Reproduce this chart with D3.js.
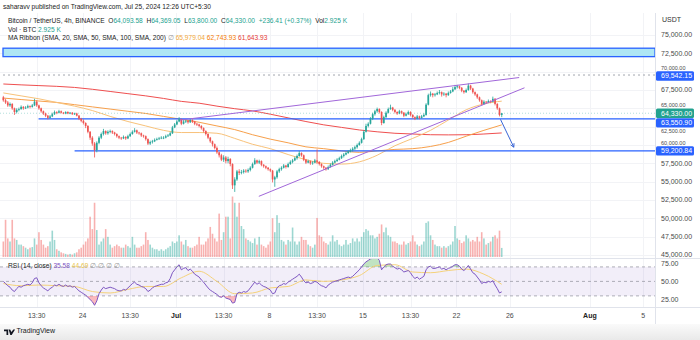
<!DOCTYPE html>
<html><head><meta charset="utf-8">
<script src="https://cdn.jsdelivr.net/npm/d3@7"></script>
<style>
html,body{margin:0;padding:0;background:#fff;}
svg{display:block;font-family:"Liberation Sans",Arial,sans-serif;}
</style></head><body>
<svg id="chart" width="700" height="340"></svg>
<script>
// BTC/USDT 4h bars from Jun 18 01:30 to Jul 25 09:30 (UTC+5:30); prices in thousands of USDT
const firstBarDay = -12.9375;   // days relative to Jul 1 00:00
const barDays = 1 / 6;
const firstOpen = 66.5;
const closes = [66.1,65.8,65.4,65.6,65.0,64.5,64.8,64.9,65.2,65.0,65.1,65.3,65.2,65.4,65.9,65.4,65.0,64.6,64.3,64.0,
63.7,63.9,64.2,64.5,64.4,64.6,64.4,64.3,64.5,64.3,64.4,64.2,64.3,64.0,63.6,63.3,63.0,62.6,61.8,61.0,
60.2,59.3,60.3,61.0,61.5,61.9,61.6,61.8,61.9,61.7,61.5,61.2,61.0,60.9,61.1,60.9,61.2,61.5,61.8,62.0,
61.7,61.6,61.3,61.2,60.8,60.2,60.4,60.5,60.7,60.8,60.9,61.0,61.0,61.2,61.3,61.6,62.4,62.8,63.2,63.5,
62.9,63.2,63.3,63.1,63.4,63.2,62.9,62.8,62.6,62.3,61.9,61.5,61.0,60.5,60.1,59.6,59.0,58.6,58.0,58.3,
57.8,58.1,57.4,54.5,55.3,56.4,56.2,56.3,56.5,56.4,56.6,56.9,57.4,57.9,57.6,57.8,57.3,57.1,56.9,56.7,
56.5,55.3,55.6,56.4,56.7,56.9,57.2,57.0,57.4,57.7,57.9,58.2,58.5,58.9,58.6,58.0,57.6,57.8,57.5,57.6,
57.9,57.7,57.4,57.1,56.9,56.7,57.0,57.3,57.6,57.8,58.0,58.2,58.5,58.7,58.9,59.1,59.3,59.5,59.7,60.0,
60.3,60.8,61.8,62.6,62.9,63.6,64.2,64.6,64.9,64.5,63.0,63.8,64.4,64.9,65.1,64.8,64.5,64.3,64.6,64.4,
64.0,64.2,64.5,64.1,63.8,63.6,63.9,63.7,63.9,64.1,65.5,66.8,67.0,66.8,66.9,67.1,67.2,66.9,67.0,66.8,
67.1,67.3,67.6,67.9,68.0,67.8,67.4,67.2,67.5,68.1,67.7,67.2,66.9,66.5,66.1,65.6,65.9,65.8,66.0,65.9,
66.3,65.6,65.0,64.09358,64.33];
const highs = [66.7,66.3,66.0,65.8,65.7,65.1,65.0,65.1,65.4,65.3,65.3,65.5,65.4,65.6,66.3,66.1,65.5,65.1,64.7,64.4,
64.1,64.1,64.4,64.7,64.6,64.8,64.7,64.5,64.6,64.6,64.5,64.5,64.4,64.4,64.1,63.7,63.5,63.1,62.7,61.9,
61.2,60.4,60.5,61.2,61.7,62.2,62.0,62.0,62.1,62.0,61.8,61.6,61.3,61.1,61.3,61.2,61.4,61.7,62.0,62.3,
62.1,61.8,61.7,61.4,61.3,60.9,60.6,60.7,60.9,61.0,61.1,61.2,61.2,61.4,61.5,61.8,62.6,63.0,63.4,63.8,
63.6,63.4,63.5,63.4,63.6,63.5,63.3,63.0,62.9,62.7,62.4,62.0,61.6,61.1,60.6,60.2,59.8,59.1,58.8,58.6,
58.5,58.4,58.2,57.5,55.6,56.6,56.7,56.6,56.7,56.7,56.8,57.1,57.6,58.2,58.0,58.0,57.9,57.4,57.2,57.0,
56.8,56.6,55.8,56.6,56.9,57.1,57.4,57.3,57.6,57.9,58.1,58.4,58.7,59.2,59.0,58.7,58.1,58.0,57.9,57.8,
58.1,59.4,57.8,57.5,57.2,57.0,57.2,57.5,57.8,58.0,58.2,58.4,58.7,58.9,59.1,59.3,59.5,59.7,59.9,60.2,
60.5,61.0,62.0,62.9,63.1,63.8,64.4,64.8,65.1,65.0,64.6,64.0,64.6,65.1,65.5,65.2,64.9,64.6,64.8,64.7,
64.5,64.4,64.7,64.6,64.2,63.9,64.1,64.0,64.1,64.3,65.7,67.0,67.3,67.1,67.1,67.3,67.5,67.3,67.2,67.1,
67.3,67.5,67.9,68.2,68.2,68.1,67.9,67.5,67.7,68.4,68.2,67.8,67.3,67.0,66.6,66.2,66.1,66.0,66.2,66.1,
66.6,66.4,65.7,65.1,64.36905];
const lows = [65.9,65.6,65.2,65.2,64.8,64.1,64.3,64.6,64.8,64.8,64.9,65.0,65.0,65.1,65.3,65.2,64.8,64.4,64.1,63.8,
63.5,63.6,63.8,64.1,64.2,64.3,64.3,64.2,64.2,64.2,64.2,64.1,64.1,63.9,63.4,63.1,62.8,62.3,61.6,60.7,
59.9,58.3,59.0,60.1,60.8,61.3,61.4,61.4,61.6,61.5,61.3,61.0,60.8,60.7,60.8,60.7,60.8,61.1,61.4,61.7,
61.5,61.4,61.1,61.0,60.6,60.0,60.0,60.2,60.4,60.6,60.7,60.8,60.8,60.9,61.1,61.2,61.5,62.3,62.7,63.1,
62.7,62.8,63.0,62.9,63.0,63.0,62.7,62.6,62.4,62.1,61.7,61.3,60.8,60.3,59.8,59.4,58.8,58.3,57.8,57.7,
57.5,57.5,57.1,54.0,53.6,55.1,55.9,56.0,56.1,56.2,56.2,56.4,56.8,57.3,57.4,57.4,57.1,56.9,56.7,56.5,
56.3,54.9,54.3,55.4,56.2,56.5,56.8,56.8,56.9,57.3,57.5,57.8,58.0,58.4,58.4,57.8,57.4,57.5,57.3,57.3,
57.5,57.4,57.2,56.9,56.6,56.5,56.6,56.9,57.2,57.5,57.7,57.9,58.1,58.3,58.6,58.8,59.0,59.1,59.3,59.5,
59.9,60.2,60.7,61.7,62.4,62.8,63.4,64.0,64.4,64.3,62.7,62.9,63.7,64.3,64.8,64.6,64.3,64.1,64.2,64.2,
63.8,63.9,64.1,63.9,63.6,63.4,63.5,63.5,63.6,63.8,64.0,65.4,66.6,66.5,66.6,66.8,66.9,66.6,66.7,66.5,
66.7,67.0,67.2,67.5,67.7,67.6,67.2,67.0,67.1,67.4,67.5,67.0,66.7,66.3,65.9,65.4,65.5,65.6,65.7,65.7,
65.8,65.4,64.8,63.9,63.8];
// volume in thousand BTC
const volumes = [5,12,6,5,12,6,5.5,4,4,3.5,3,2.5,3,3.2,6,4,8,5.5,4,3,
3.5,5,8.5,5.5,2.5,2,1.5,1.2,1,0.8,1,0.8,1.2,1.5,2.5,3,4,5,6,13,
9,17.5,8.7,4,5,6,9,6.5,4,3,3.5,4,3.5,3,3,4,3.5,3,6.5,4,
3,3,3.5,4,8,5.5,4,3,2.5,2.5,2,2.5,2,2.5,3,3.5,5,4.5,5,7,
5,4,5.5,3.5,3,3,3.5,4,6.5,4,4,5,6,9.7,7.5,6,5,14,5.5,8,
13,13,6,19.5,17.5,13,17.5,10,9,6,5.5,5,4.5,6,4,6.5,4,3.5,3,4,
5,12.5,8,13.5,11,5.5,5,4,5.5,5,9.5,5,4,5,6.5,5.5,5.5,4,3.5,3,
4,12.6,7,6.5,5,4.5,4,5,7,5,5.5,4,3.5,4,5.5,4,4.5,6,5,6,
5,6.5,8,9,8.5,7,7,6,6.5,7.5,10.5,8,9.5,7,6.5,5,5,4.5,4,4,
5,4,4.5,5,7,5,4,3.5,4,5,11,11.5,7,5.5,4,3.5,3.5,3,3.5,3,
3.5,4,5,10,6,5.5,4.5,5,7,6,5,5.5,5,6.5,5,8,6,4,4.5,5,
6.5,7,6,8.5,2.925];
// RSI(14) per bar
const rsi = [50,47,44,42,38,36,40,43,42,44,45,46,45,48,54,55,48,44,41,39,
37,40,42,45,44,46,44,43,45,43,44,42,43,40,37,35,33,31,28,25,
22,17,23,33,38,42,40,41,42,41,40,38,37,37,39,38,41,44,47,49,
46,45,43,42,40,36,38,41,43,44,45,46,46,48,49,54,62,66,70,73,
66,68,69,65,67,64,60,58,56,52,49,45,41,38,36,34,32,29,28,30,
27,26,25,20,21,33,35,34,36,35,37,41,45,49,46,48,45,43,42,40,
38,33,34,41,44,45,47,46,49,51,53,55,57,60,56,51,48,49,47,48,
50,49,46,44,43,41,45,47,49,50,51,52,53,54,55,56,55,57,60,63,
66,70,74,77,79,81,82,83,83,79,66,70,73,74,74,71,69,67,68,66,
63,64,65,62,57,54,56,53,55,57,66,70,71,68,68,69,70,67,68,66,
68,69,71,73,73,71,67,65,68,72,67,62,60,56,52,47,49,48,50,49,
51,45,40,34,35.58];
// moving averages and RSI average, one reading every 8 bars
const maStep = 8;
const sma50 = [67.1,66.7,66.3,65.8,65.3,64.7,63.9,63.2,62.6,62.0,61.7,61.7,61.6,60.9,60.1,59.5,58.7,58.0,57.5,57.4,57.7,58.6,59.9,60.9,62.0,63.4,64.8,65.6,65.979];
const sma100 = [66.4,66.2,66.0,65.8,65.5,65.2,64.9,64.6,64.3,63.9,63.5,63.1,62.6,62.1,61.4,60.8,60.3,59.75,59.5,59.2,59.0,59.2,59.4,59.5,59.8,60.35,61.2,62.0,62.744];
const sma200 = [68.32,68.2,68.1,68.0,67.85,67.6,67.3,67.0,66.7,66.35,65.95,65.7,65.3,64.95,64.65,64.2,63.7,63.2,62.75,62.4,62.05,61.8,61.6,61.5,61.4,61.38,61.4,61.5,61.644];
const rsiMa = [47,44,45,44,43,36,34,39,43,43,55,64,50,33,34,41,43,52,50,52,58,72,73,63,62,65,67,60,46];

// axis ticks
const priceTicks = [45,47.5,50,52.5,55,57.5,60,62.5,65,67.5,70,72.5,75];
const rsiTicks = [25,50,75];
const timeTicks = [[-10.4375,"13:30"],[-7,"24"],[-3.4375,"13:30"],[0,"Jul"],[3.5625,"13:30"],[7,"8"],[10.5625,"13:30"],[14,"15"],[17.5625,"13:30"],[21,"22"],[25,"26"],[31,"Aug"],[35,"5"]];
const boldTicks = ["Jul","Aug"];

// drawn levels (thousands)
const zoneLevels = [72.05, 73.2];
const dottedLevel = 69.54215;
const supportLevels = [[63.5509, -10.3], [59.20084, -7.6]]; // level, start day
const lastPrice = 64.33;
const upperWedge = [[0.3, 63.4], [25.7, 69.2]];   // [day, price]
const lowerWedge = [[6.2, 53.0], [26.1, 67.8]];
const arrowPts = [[24.3, 63.5], [25.3, 59.7]];

const fmt = d3.format(",.2f");
const svg = d3.select("#chart");
const PLOT_R = 655;

const x = d3.scaleLinear().domain([-7, 35]).range([82.6, 643.3]);
const y = d3.scaleLinear().domain([45, 75]).range([255, 35]);
const yVol = d3.scaleLinear().domain([0, 20]).range([257, 195]);
const yRsi = d3.scaleLinear().domain([25, 75]).range([299.5, 263.3]);
const barDay = i => firstBarDay + i * barDays;
const bx = i => x(barDay(i));

const bars = closes.map((c, i) => ({
  i, o: i === 0 ? firstOpen : closes[i - 1], c, h: highs[i], l: lows[i], v: volumes[i], r: rsi[i]
}));

const defs = svg.append("defs");
defs.append("clipPath").attr("id", "mainClip").append("rect").attr("x", 0).attr("y", 13).attr("width", PLOT_R).attr("height", 245);
defs.append("clipPath").attr("id", "rsiClip").append("rect").attr("x", 0).attr("y", 259).attr("width", PLOT_R).attr("height", 48);
defs.append("clipPath").attr("id", "obClip").append("rect").attr("x", 0).attr("y", 250).attr("width", PLOT_R).attr("height", yRsi(70) - 250);
defs.append("clipPath").attr("id", "osClip").append("rect").attr("x", 0).attr("y", yRsi(30)).attr("width", PLOT_R).attr("height", 20);
const fg = defs.append("linearGradient").attr("id", "footGrad").attr("x1", 0).attr("y1", 0).attr("x2", 0).attr("y2", 1);
fg.append("stop").attr("offset", "0%").attr("stop-color", "#fafafa");
fg.append("stop").attr("offset", "100%").attr("stop-color", "#e9e9e9");

// grid
const grid = svg.append("g").attr("stroke", "#f2f3f6").attr("stroke-width", 1);
priceTicks.forEach(p => grid.append("line").attr("x1", 0).attr("x2", PLOT_R).attr("y1", Math.round(y(p)) + 0.5).attr("y2", Math.round(y(p)) + 0.5));
timeTicks.forEach(t => grid.append("line").attr("x1", Math.round(x(t[0])) + 0.5).attr("x2", Math.round(x(t[0])) + 0.5).attr("y1", 13).attr("y2", 307));

const main = svg.append("g").attr("clip-path", "url(#mainClip)");

// resistance zone
main.append("rect").attr("x", 3).attr("width", PLOT_R - 3)
  .attr("y", y(zoneLevels[1])).attr("height", y(zoneLevels[0]) - y(zoneLevels[1]))
  .attr("fill", "#aee6f4").attr("stroke", "#2962ff").attr("stroke-width", 1.3);

// volume
main.append("g").selectAll("rect").data(bars).join("rect")
  .attr("x", d => bx(d.i) - 0.8).attr("width", 1.6)
  .attr("y", d => yVol(d.v)).attr("height", d => yVol(0) - yVol(d.v))
  .attr("fill", d => d.c >= d.o ? "rgba(38,166,154,0.45)" : "rgba(239,83,80,0.45)");

// moving averages
const maLine = arr => d3.line().curve(d3.curveMonotoneX)
  .x((v, k) => bx(k * maStep)).y(v => y(v))(arr);
[[sma200, "#ef4f4f"], [sma100, "#f7a04b"], [sma50, "#f8c27a"]].forEach(([arr, col]) =>
  main.append("path").attr("d", maLine(arr)).attr("fill", "none").attr("stroke", col).attr("stroke-width", 1));

// last price line
main.append("line").attr("x1", 0).attr("x2", PLOT_R).attr("y1", y(lastPrice)).attr("y2", y(lastPrice))
  .attr("stroke", "#26a69a").attr("stroke-opacity", 0.35).attr("stroke-dasharray", "1,2");

// dotted level
main.append("line").attr("x1", 3).attr("x2", PLOT_R).attr("y1", y(dottedLevel)).attr("y2", y(dottedLevel))
  .attr("stroke", "#a3a6af").attr("stroke-width", 1).attr("stroke-dasharray", "2,3");

// support lines
supportLevels.forEach(([p, d]) => main.append("line").attr("x1", x(d)).attr("x2", PLOT_R)
  .attr("y1", y(p)).attr("y2", y(p)).attr("stroke", "#2962ff").attr("stroke-width", 1.3));

// candles
const cg = main.append("g");
cg.selectAll("line").data(bars).join("line")
  .attr("x1", d => bx(d.i)).attr("x2", d => bx(d.i)).attr("y1", d => y(d.h)).attr("y2", d => y(d.l))
  .attr("stroke", d => d.c >= d.o ? "#26a69a" : "#ef5350").attr("stroke-width", 0.8);
cg.selectAll("rect").data(bars).join("rect")
  .attr("x", d => bx(d.i) - 0.85).attr("width", 1.7)
  .attr("y", d => y(Math.max(d.o, d.c))).attr("height", d => Math.max(0.8, Math.abs(y(d.o) - y(d.c))))
  .attr("fill", d => d.c >= d.o ? "#26a69a" : "#ef5350");

// rising wedge
[upperWedge, lowerWedge].forEach(seg => main.append("line")
  .attr("x1", x(seg[0][0])).attr("y1", y(seg[0][1])).attr("x2", x(seg[1][0])).attr("y2", y(seg[1][1]))
  .attr("stroke", "#a167d9").attr("stroke-width", 1));

// projection arrow
const ax1 = x(arrowPts[0][0]), ay1 = y(arrowPts[0][1]), ax2 = x(arrowPts[1][0]), ay2 = y(arrowPts[1][1]);
main.append("line").attr("x1", ax1).attr("y1", ay1).attr("x2", ax2).attr("y2", ay2).attr("stroke", "#3a66d6").attr("stroke-width", 1);
const ang = Math.atan2(ay2 - ay1, ax2 - ax1);
const ah = 4;
main.append("path").attr("d", `M${ax2 - ah * Math.cos(ang - 0.5)},${ay2 - ah * Math.sin(ang - 0.5)}L${ax2},${ay2}L${ax2 - ah * Math.cos(ang + 0.5)},${ay2 - ah * Math.sin(ang + 0.5)}`)
  .attr("fill", "none").attr("stroke", "#3a66d6").attr("stroke-width", 1);

// RSI pane
const rsiG = svg.append("g").attr("clip-path", "url(#rsiClip)");
rsiG.append("rect").attr("x", 0).attr("width", PLOT_R).attr("y", yRsi(70)).attr("height", yRsi(30) - yRsi(70)).attr("fill", "rgba(126,87,194,0.1)");
[70, 50, 30].forEach(v => rsiG.append("line").attr("x1", 0).attr("x2", PLOT_R).attr("y1", yRsi(v)).attr("y2", yRsi(v))
  .attr("stroke", "#9a9ca6").attr("stroke-width", 0.8).attr("stroke-dasharray", "3,3"));
rsiG.append("path").attr("clip-path", "url(#obClip)")
  .attr("d", d3.area().x(d => bx(d.i)).y0(yRsi(70)).y1(d => yRsi(d.r))(bars)).attr("fill", "rgba(76,175,80,0.35)");
rsiG.append("path").attr("clip-path", "url(#osClip)")
  .attr("d", d3.area().x(d => bx(d.i)).y0(yRsi(30)).y1(d => yRsi(d.r))(bars)).attr("fill", "rgba(242,54,69,0.35)");
rsiG.append("path").attr("d", d3.line().curve(d3.curveMonotoneX).x((v, k) => bx(k * maStep)).y(v => yRsi(v))(rsiMa))
  .attr("fill", "none").attr("stroke", "#f5d27a").attr("stroke-width", 1);
rsiG.append("path").attr("d", d3.line().x(d => bx(d.i)).y(d => yRsi(d.r))(bars))
  .attr("fill", "none").attr("stroke", "#7e57c2").attr("stroke-width", 1);

// pane borders
svg.append("line").attr("x1", PLOT_R + 0.5).attr("x2", PLOT_R + 0.5).attr("y1", 13).attr("y2", 324).attr("stroke", "#e0e3eb");
svg.append("line").attr("x1", 0).attr("x2", 700).attr("y1", 258.5).attr("y2", 258.5).attr("stroke", "#e0e3eb");
svg.append("line").attr("x1", 0).attr("x2", 700).attr("y1", 307.5).attr("y2", 307.5).attr("stroke", "#e0e3eb");

// price axis (tick labels under a price tag are only partly visible, as on the platform)
const tagYs = [];
const axisG = svg.append("g").attr("font-size", 7).attr("fill", "#4a4a4a");
axisG.append("text").attr("x", 662).attr("y", 20).attr("dy", "0.35em").text("USDT").attr("fill", "#333");
rsiTicks.forEach(v => axisG.append("text").attr("x", 661).attr("y", yRsi(v)).attr("dy", "0.35em").text(fmt(v)));

// price tags
const tagG = svg.append("g");
const tag = (p, yy, col) => {
  tagYs.push(yy);
  tagG.append("rect").attr("x", 656).attr("y", yy - 4.7).attr("width", 38).attr("height", 9.4).attr("rx", 1.5).attr("fill", col);
  tagG.append("text").attr("x", 661).attr("y", yy).attr("dy", "0.35em").attr("font-size", 7).attr("fill", "#fff").text(fmt(p * 1000));
};
tag(dottedLevel, y(dottedLevel) + 1, "#2962ff");
tag(lastPrice, y(lastPrice), "#22a28f");
tag(supportLevels[0][0], y(lastPrice) + 9.6, "#2962ff");
tag(supportLevels[1][0], y(supportLevels[1][0]), "#2962ff");

priceTicks.forEach(p => {
  const yy = y(p);
  const near = tagYs.find(t => Math.abs(t - yy) < 8);
  const t = axisG.append("text").attr("x", 661).attr("y", yy).attr("dy", "0.35em").text(fmt(p * 1000));
  if (near !== undefined) t.attr("y", near < yy ? near + 8.2 : near - 8.2).attr("font-size", 5.5);
});
tagG.raise();

// time axis
const tg = svg.append("g").attr("font-size", 7).attr("fill", "#4a4a4a").attr("text-anchor", "middle");
timeTicks.forEach(t => tg.append("text").attr("x", x(t[0])).attr("y", 316).attr("dy", "0.35em")
  .attr("font-weight", boldTicks.includes(t[1]) ? "bold" : null).attr("fill", boldTicks.includes(t[1]) ? "#222" : "#4a4a4a").text(t[1]));

// footer
svg.append("rect").attr("x", 0).attr("y", 324).attr("width", 700).attr("height", 16).attr("fill", "url(#footGrad)");
svg.append("path").attr("d", "M4,329.5h4.2v5.5h-1.7v-3.8h-2.5z M8.6,329.5h1.6l1.2,2.6 1.9,-2.6h1.8l-3.4,5.5h-1.4z").attr("fill", "#131722");
svg.append("text").attr("x", 16.5).attr("y", 333).attr("font-size", 7).attr("fill", "#131722").text("TradingView");

// headers
const head = svg.append("g").attr("font-size", 6.6).attr("fill", "#222");
head.append("text").attr("x", 3).attr("y", 9).text("saharavv published on TradingView.com, Jul 25, 2024 12:26 UTC+5:30");
const up = "#22a28f";
const l1 = head.append("text").attr("x", 8).attr("y", 23);
[["Bitcoin / TetherUS, 4h, BINANCE  O", "#222"], ["64,093.58", up], ["  H", "#222"], ["64,369.05", up], ["  L", "#222"], ["63,800.00", up],
 ["  C", "#222"], ["64,330.00", up], ["  +236.41 (+0.37%)", up], ["  Vol", "#222"], ["2.925 K", up]]
  .forEach(([t, c]) => l1.append("tspan").attr("fill", c).attr("xml:space", "preserve").text(t));
const l2 = head.append("text").attr("x", 8).attr("y", 31.5);
l2.append("tspan").text("Vol · BTC  ");
l2.append("tspan").attr("fill", up).text("2.925 K");
const l3 = head.append("text").attr("x", 8).attr("y", 40);
[["MA Ribbon (SMA, 20, SMA, 50, SMA, 100, SMA, 200)  ", "#222"], ["∅  ", "#999"], ["65,979.04  ", "#f2a83a"], ["62,743.93  ", "#f57c00"], ["61,643.93", "#e53935"]]
  .forEach(([t, c]) => l3.append("tspan").attr("fill", c).text(t));
const l4 = svg.append("text").attr("x", 8).attr("y", 268).attr("font-size", 6.6);
[["RSI (14, close)  ", "#222"], ["35.58  ", "#7e57c2"], ["44.69  ", "#e8c34a"], ["∅  ∅  ∅  ∅", "#999"]]
  .forEach(([t, c]) => l4.append("tspan").attr("fill", c).text(t));
</script>
</body></html>
